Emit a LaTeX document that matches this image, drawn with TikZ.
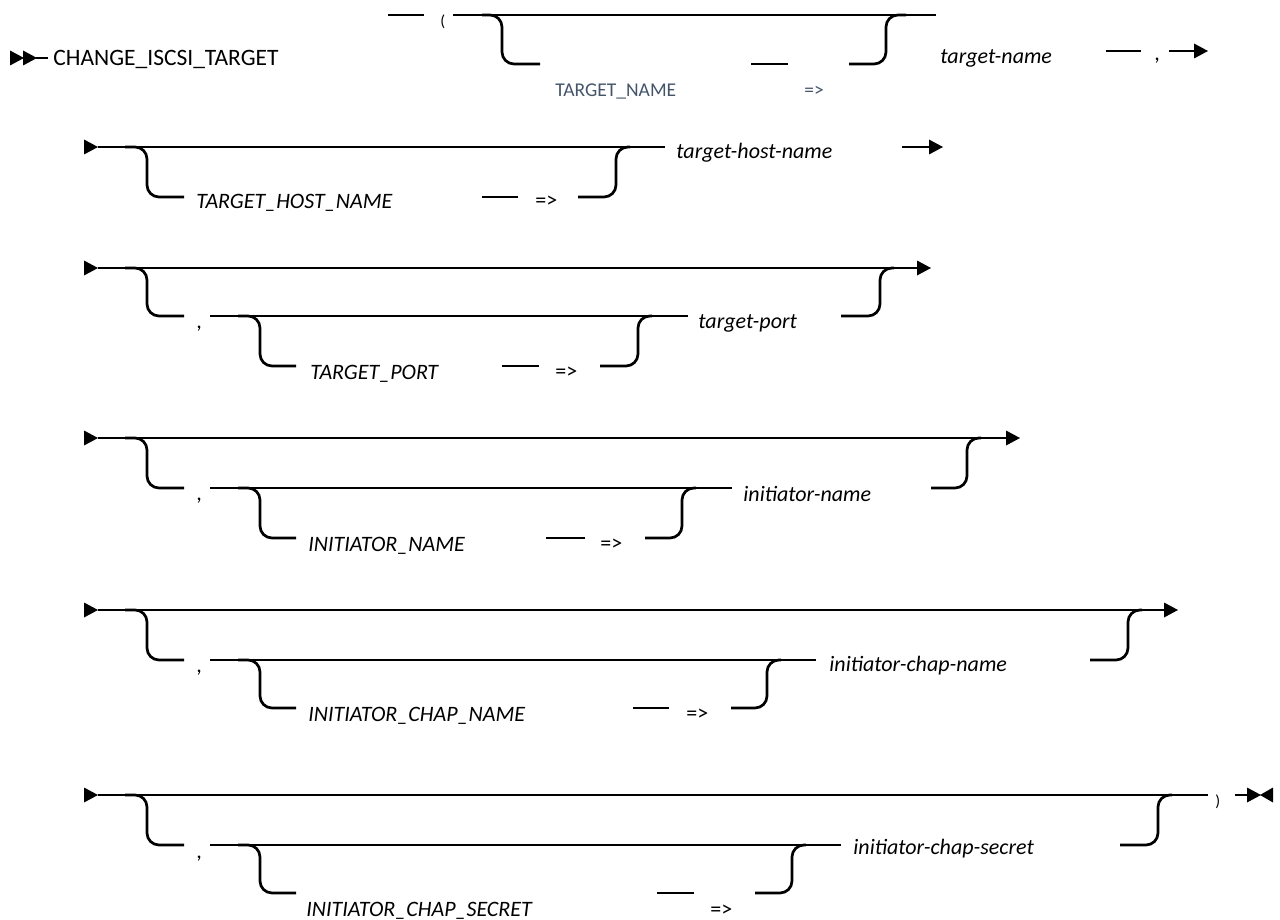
\documentclass[tikz,border=0pt]{standalone}
\usepackage{fontspec}
\setmainfont{Carlito}
\definecolor{kwblue}{HTML}{44546A}
\begin{document}
\begin{tikzpicture}[x=0.5pt,y=-0.5pt,
  rail/.style={line width=1.35pt, rounded corners=6pt},
  bar/.style={line width=1.35pt},
  kw/.style={anchor=base west, inner sep=0pt, font=\fontsize{11pt}{13pt}\selectfont},
  var/.style={anchor=base west, inner sep=0pt, font=\fontsize{11pt}{13pt}\selectfont\itshape},
  small/.style={anchor=base west, inner sep=0pt, font=\fontsize{8pt}{10pt}\selectfont},
  bluekw/.style={anchor=base west, inner sep=0pt, text=kwblue, font=\fontsize{9.75pt}{11pt}\selectfont},
  headR/.pic={\fill (0,-7.5) -- (14,0) -- (0,7.5) -- cycle;},
  headL/.pic={\fill (13,-7.5) -- (0,0) -- (13,7.5) -- cycle;}
]
\useasboundingbox (0,0) rectangle (1280,920);

% ---------------- Row 1 ----------------
\pic at (10,58) {headR};
\pic at (23,58) {headR};
\coordinate (s1) at (36,58);
\coordinate (s1e) at (48,58);
\draw[bar] (s1) -- (s1e);
\node[kw, font=\fontsize{11.75pt}{13pt}\selectfont] (cit) at (53,66) {CHANGE\_ISCSI\_TARGET};
\coordinate (d1a) at (388,15); \coordinate (d1b) at (424,15);
\draw[bar] (d1a) -- (d1b);
\node[small] (lp) at (440,27) {(};
\coordinate (t1a) at (453,15); \coordinate (t1b) at (936,15);
\draw[bar] (t1a) -- (t1b);
\draw[rail] (482,15) -- (502,15) -- (502,64) -- (540,64);
\draw[bar] (751,64) -- (788,64);
\draw[rail] (849,64) -- (886,64) -- (886,15) -- (906,15);
\node[bluekw] (tn) at (555,97) {TARGET\_NAME};
\node[bluekw] (tnar) at (804,97) {=>};
\node[var] (tnv) at (940,64) {target-name};
\draw[bar] (1106,51) -- (1141,51);
\node[kw] (c1) at (1154,61) {,};
\coordinate (e1a) at (1169,51); \coordinate (e1b) at (1194,51);
\draw[bar] (e1a) -- (e1b);
\pic at (1194,51) {headR};

% ---------------- Row 2 ----------------
\pic at (84,147) {headR};
\draw[bar] (98,147) -- (665,147);
\draw[rail] (125,147) -- (147,147) -- (147,197) -- (184,197);
\node[var] (thn) at (196,208) {TARGET\_HOST\_NAME};
\draw[bar] (482,197) -- (518,197);
\node[kw] (thnar) at (535,207) {=>};
\draw[rail] (578,197) -- (616,197) -- (616,147) -- (630,147);
\node[var] (thnv) at (676,159) {target-host-name};
\draw[bar] (902,147) -- (929,147);
\pic at (929,147) {headR};

% ---------------- Row 3 ----------------
\pic at (84,268) {headR};
\draw[bar] (98,268) -- (917,268);
\pic at (917,268) {headR};
\draw[rail] (125,268) -- (147,268) -- (147,316) -- (184,316);
\node[kw] (c3) at (196,328) {,};
\draw[bar] (210,316) -- (688,316);
\draw[rail] (238,316) -- (260,316) -- (260,366) -- (296,366);
\node[var] (tp) at (310,379) {TARGET\_PORT};
\draw[bar] (502,366) -- (539,366);
\node[kw] (tpar) at (555,378) {=>};
\draw[rail] (600,366) -- (638,366) -- (638,316) -- (652,316);
\node[var] (tpv) at (698,328) {target-port};
\draw[rail] (841,316) -- (880,316) -- (880,268) -- (894,268);

% ---------------- Row 4 ----------------
\pic at (84,438) {headR};
\draw[bar] (98,438) -- (1006,438);
\pic at (1006,438) {headR};
\draw[rail] (125,438) -- (147,438) -- (147,488) -- (184,488);
\node[kw] (c4) at (196,500) {,};
\draw[bar] (210,488) -- (732,488);
\draw[rail] (238,488) -- (260,488) -- (260,538) -- (296,538);
\node[var] (in) at (308,551) {INITIATOR\_NAME};
\draw[bar] (546,538) -- (585,538);
\node[kw] (inar) at (600,550) {=>};
\draw[rail] (645,538) -- (682,538) -- (682,488) -- (696,488);
\node[var] (inv) at (743,501) {initiator-name};
\draw[rail] (931,488) -- (967,488) -- (967,438) -- (981,438);

% ---------------- Row 5 ----------------
\pic at (84,610) {headR};
\draw[bar] (98,610) -- (1164,610);
\pic at (1164,610) {headR};
\draw[rail] (125,610) -- (147,610) -- (147,660) -- (184,660);
\node[kw] (c5) at (196,672) {,};
\draw[bar] (210,660) -- (816,660);
\draw[rail] (238,660) -- (260,660) -- (260,708) -- (296,708);
\node[var] (icn) at (308,721) {INITIATOR\_CHAP\_NAME};
\draw[bar] (633,708) -- (669,708);
\node[kw] (icnar) at (686,720) {=>};
\draw[rail] (731,708) -- (767,708) -- (767,660) -- (781,660);
\node[var] (icnv) at (829,671) {initiator-chap-name};
\draw[rail] (1090,660) -- (1128,660) -- (1128,610) -- (1142,610);

% ---------------- Row 6 ----------------
\pic at (84,795) {headR};
\draw[bar] (98,795) -- (1208,795);
\node[small] (rp) at (1215,806) {)};
\draw[bar] (1235,795) -- (1247,795);
\pic at (1247,795) {headR};
\pic at (1260,795) {headL};
\draw[rail] (125,795) -- (147,795) -- (147,845) -- (184,845);
\node[kw] (c6) at (196,858) {,};
\draw[bar] (210,845) -- (841,845);
\draw[rail] (238,845) -- (260,845) -- (260,893) -- (296,893);
\node[var] (ics) at (306,916) {INITIATOR\_CHAP\_SECRET};
\draw[bar] (657,893) -- (694,893);
\node[kw] (icsar) at (710,916) {=>};
\draw[rail] (755,893) -- (792,893) -- (792,845) -- (806,845);
\node[var] (icsv) at (853,854) {initiator-chap-secret};
\draw[rail] (1120,845) -- (1158,845) -- (1158,795) -- (1172,795);
\end{tikzpicture}
\end{document}
